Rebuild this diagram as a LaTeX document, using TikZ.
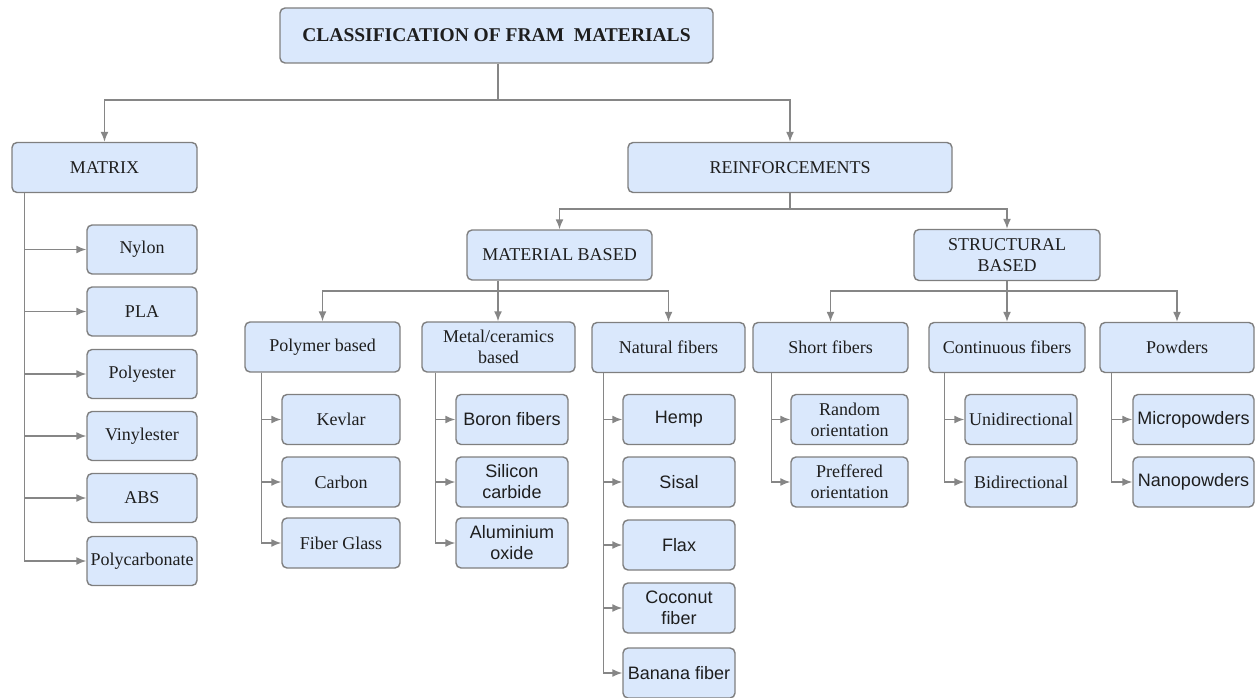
\documentclass[tikz,border=0pt]{standalone}
\usepackage{fontspec}
\setmainfont{Liberation Serif}
\newfontfamily\arialfont{Liberation Sans}
\usetikzlibrary{arrows.meta}
\definecolor{boxfill}{HTML}{DAE8FC}
\definecolor{boxline}{HTML}{7F7F7F}
\definecolor{linegray}{HTML}{868686}
\definecolor{txt}{HTML}{1E1E1E}
\tikzset{
  >={Latex[length=10pt,width=8pt]},
}
\tikzstyle{box}=[draw=boxline,fill=boxfill,rounded corners=5pt,line width=1.4pt,align=center,inner sep=1pt,text=txt,font=\fontsize{18}{21}\selectfont]
\tikzstyle{leaf}=[box,minimum width=112pt,minimum height=50pt]
\tikzstyle{leafsans}=[leaf,font=\arialfont\fontsize{18}{21}\selectfont]
\tikzstyle{conn}=[linegray,line width=1.5pt,->]

\begin{document}
\begin{tikzpicture}[x=1pt,y=-1pt]
    \useasboundingbox (0,0) rectangle (1256,698);

    % top levels
    \node[box,minimum width=433pt,minimum height=55pt,font=\bfseries\fontsize{19.5}{23}\selectfont] (title) at (496.5,35.5) {CLASSIFICATION OF FRAM\ \ MATERIALS};
    \node[box,minimum width=185pt,minimum height=50pt] (matrix) at (104.5,167.5) {MATRIX};
    \node[box,minimum width=324pt,minimum height=50pt] (reinf) at (790,167.5) {REINFORCEMENTS};
    \node[box,minimum width=185pt,minimum height=50pt] (matbased) at (559.5,255) {MATERIAL BASED};
    \node[box,minimum width=186pt,minimum height=51pt] (strbased) at (1007,255) {STRUCTURAL\\BASED};

    \node[box,minimum width=155pt,minimum height=50pt] (polymer) at (322.5,347) {Polymer based};
    \node[box,minimum width=153pt,minimum height=50pt] (metal) at (498.5,347) {Metal/ceramics\\based};
    \node[box,minimum width=153pt,minimum height=50pt] (natural) at (668.5,347.5) {Natural fibers};
    \node[box,minimum width=155pt,minimum height=50pt] (short) at (830.5,347.5) {Short fibers};
    \node[box,minimum width=156pt,minimum height=50pt] (cont) at (1007,347.5) {Continuous fibers};
    \node[box,minimum width=154pt,minimum height=50pt] (powders) at (1177,347.5) {Powders};

    % matrix materials
    \node[leaf,minimum width=110pt,minimum height=49pt] (nylon) at (142,249.5) {Nylon};
    \node[leaf,minimum width=110pt,minimum height=49pt] (pla) at (142,311.5) {PLA};
    \node[leaf,minimum width=110pt,minimum height=49pt] (polyester) at (142,374) {Polyester};
    \node[leaf,minimum width=110pt,minimum height=49pt] (vinylester) at (142,436) {Vinylester};
    \node[leaf,minimum width=110pt,minimum height=49pt] (abs) at (142,498) {ABS};
    \node[leaf,minimum width=110pt,minimum height=49pt] (polycarb) at (142,561) {Polycarbonate};

    % material based
    \node[leaf,minimum width=118pt] (kevlar) at (341,419.5) {Kevlar};
    \node[leaf,minimum width=118pt] (carbon) at (341,482) {Carbon};
    \node[leaf,minimum width=118pt] (fglass) at (341,543) {Fiber Glass};

    \node[leafsans] (boron) at (512,419.5) {Boron fibers};
    \node[leafsans] (silicon) at (512,482) {Silicon\\carbide};
    \node[leafsans] (alumina) at (512,543) {Aluminium\\oxide};

    \node[leafsans] (hemp) at (679,419.5) {Hemp};
    \node[leafsans] (sisal) at (679,482) {Sisal};
    \node[leafsans] (flax) at (679,545) {Flax};
    \node[leafsans] (coconut) at (679,608) {Coconut\\fiber};
    \node[leafsans] (banana) at (679,673) {Banana fiber};

    % structural based
    \node[leaf,minimum width=117pt] (random) at (849.5,419.5) {Random\\orientation};
    \node[leaf,minimum width=117pt] (preferred) at (849.5,482) {Preffered\\orientation};

    \node[leaf] (unidir) at (1021,419.5) {Unidirectional};
    \node[leaf] (bidir) at (1021,482) {Bidirectional};

    \node[leafsans,minimum width=121pt] (micro) at (1193.5,419.5) {Micropowders};
    \node[leafsans,minimum width=121pt] (nano) at (1193.5,482) {Nanopowders};

    % connectors between levels
    \coordinate (topbus) at (498,100);
    \draw[conn] (title.south -| topbus) -- (topbus) -| (matrix.north);
    \draw[conn] (topbus) -| (reinf.north);

    \coordinate (rbus) at (790,209);
    \draw[conn] (reinf.south) -- (rbus) -| (matbased.north);
    \draw[conn] (rbus) -| (strbased.north);

    \coordinate (mbus) at (498,291);
    \draw[conn] (matbased.south -| mbus) -- (mbus) -| (polymer.north);
    \draw[conn] (mbus) -- (metal.north -| mbus);
    \draw[conn] (mbus) -| (natural.north);

    \coordinate (sbus) at (1007,291);
    \draw[conn] (strbased.south) -- (sbus) -| (short.north);
    \draw[conn] (sbus) -- (cont.north);
    \draw[conn] (sbus) -| (powders.north);

    % connectors to the leaves
    \foreach \c in {nylon,pla,polyester,vinylester,abs,polycarb}
      \draw[conn] ([xshift=13pt]matrix.south west) |- (\c.west);
    \foreach \c in {kevlar,carbon,fglass}
      \draw[conn] ([xshift=17pt]polymer.south west) |- (\c.west);
    \foreach \c in {boron,silicon,alumina}
      \draw[conn] ([xshift=14pt]metal.south west) |- (\c.west);
    \foreach \c in {hemp,sisal,flax,coconut,banana}
      \draw[conn] ([xshift=12pt]natural.south west) |- (\c.west);
    \foreach \c in {random,preferred}
      \draw[conn] ([xshift=19pt]short.south west) |- (\c.west);
    \foreach \c in {unidir,bidir}
      \draw[conn] ([xshift=16pt]cont.south west) |- (\c.west);
    \foreach \c in {micro,nano}
      \draw[conn] ([xshift=12pt]powders.south west) |- (\c.west);
\end{tikzpicture}
\end{document}
